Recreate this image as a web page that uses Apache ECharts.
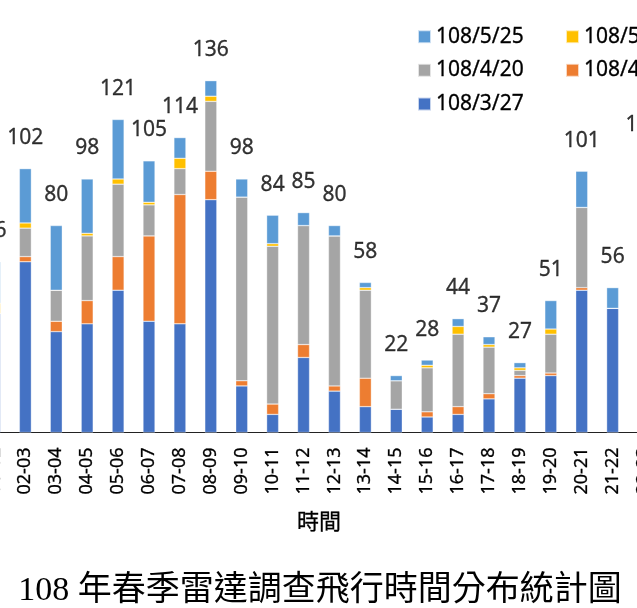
<!DOCTYPE html>
<html>
<head>
<meta charset="utf-8">
<script src="https://cdn.jsdelivr.net/npm/echarts@6/dist/echarts.min.js"></script>
<style>
  html, body { margin: 0; padding: 0; background: #fff; overflow: hidden; }
  #wrap { position: relative; width: 637px; height: 608px; overflow: hidden; }
  /* the reference is a crop of a wider chart, so the canvas sticks out on both sides */
  #chart { position: absolute; left: -60px; top: 0; width: 760px; height: 608px; }
</style>
</head>
<body>
<div id="wrap"><div id="chart"></div></div>
<script>
const categories = ['01-02', '02-03', '03-04', '04-05', '05-06', '06-07', '07-08', '08-09', '09-10', '10-11', '11-12',
  '12-13', '13-14', '14-15', '15-16', '16-17', '17-18', '18-19', '19-20', '20-21', '21-22', '22-23']

// stacked from the bottom up
const d0327 = [46, 66, 39, 42, 55, 43, 42, 90, 18, 7, 29, 16, 10, 9, 6, 7, 13, 21, 22, 55, 48, 80]
const d0410 = [0, 2, 4, 9, 13, 33, 50, 11, 2, 4, 5, 2, 11, 0, 2, 3, 2, 1, 1, 1, 0, 0]
const d0420 = [0, 11, 12, 25, 28, 12, 10, 27, 71, 61, 46, 58, 34, 11, 17, 28, 18, 2, 15, 31, 0, 10]
const d0511 = [4, 2, 0, 1, 2, 1, 4, 2, 0, 1, 0, 0, 1, 0, 1, 3, 1, 1, 2, 0, 0, 2]
const d0525 = [16, 21, 25, 21, 23, 16, 8, 6, 7, 11, 5, 4, 2, 2, 2, 3, 3, 2, 11, 14, 8, 15]

const seriesNames = ['108/3/27', '108/4/10', '108/4/20', '108/5/11', '108/5/25']
const seriesData = [d0327, d0410, d0420, d0511, d0525]
const colors = ['#4472C4', '#ED7D31', '#A5A5A5', '#FFC000', '#5B9BD5']

const totals = categories.map((c, i) => seriesData.reduce((s, arr) => s + arr[i], 0))

const font = '"Noto Sans", "Noto Sans CJK TC", sans-serif'
const off = 60 // canvas offset to the left of the visible page
const chart = echarts.init(document.getElementById('chart'))

// a hairline stroke makes the thin text as dark as in the reference
const ink = { color: '#000', textBorderColor: '#000', textBorderWidth: 0.3 }
const legendText = Object.assign({ fontFamily: font, fontSize: 21 }, ink)

chart.setOption({
  animation: false,
  color: colors,
  title: {
    text: '108 年春季雷達調查飛行時間分布統計圖',
    left: 'center',
    top: 574,
    padding: 0,
    textStyle: { fontFamily: '"Liberation Serif", "Noto Sans CJK TC", serif', fontSize: 34, fontWeight: 'normal', color: '#000' }
  },
  legend: [
    {
      orient: 'vertical', left: 417 + off, top: 26, padding: 0, itemGap: 12.4,
      itemWidth: 13, itemHeight: 13, icon: 'rect', textStyle: legendText,
      data: ['108/5/25', '108/4/20', '108/3/27']
    },
    {
      orient: 'vertical', left: 565 + off, top: 26, padding: 0, itemGap: 12.4,
      itemWidth: 13, itemHeight: 13, icon: 'rect', textStyle: legendText,
      data: ['108/5/11', '108/4/10']
    }
  ],
  grid: { left: off - 21, width: 680, top: 18.6, height: 413.9, outerBoundsMode: 'none' },
  xAxis: {
    type: 'category',
    data: categories,
    name: '時間',
    nameLocation: 'middle',
    nameGap: 79,
    nameTextStyle: Object.assign({ fontFamily: font, fontSize: 22 }, ink),
    axisLine: { lineStyle: { color: '#222', width: 1 } },
    axisTick: { show: false },
    axisLabel: Object.assign({ rotate: 90, margin: 15, padding: [6, 0, 0, 0], fontFamily: font, fontSize: 18, interval: 0 }, ink)
  },
  yAxis: { type: 'value', min: 0, max: 160, show: false, splitLine: { show: false } },
  series: seriesNames.map((name, k) => ({
    name,
    type: 'bar',
    stack: 'total',
    barWidth: 12,
    data: seriesData[k],
    itemStyle: { borderColor: 'rgba(255,255,255,0.7)', borderWidth: 0.5 }
  })).concat([{
    name: 'total',
    type: 'scatter',
    symbolSize: 0,
    data: totals,
    label: Object.assign({
      show: true, position: 'top', distance: 20,
      fontFamily: font, fontSize: 21
    }, ink)
  }])
})
</script>
</body>
</html>
